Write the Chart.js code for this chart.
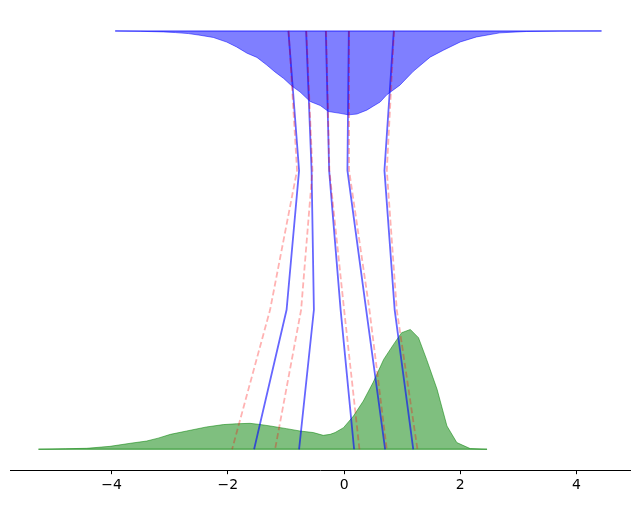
<!DOCTYPE html>
<html>
<head>
<meta charset="utf-8">
<script src="https://cdn.jsdelivr.net/npm/chart.js@4.4.1/dist/chart.umd.min.js"></script>
<style>
  html, body { margin: 0; padding: 0; background: #fff; }
  #wrap { width: 640px; height: 505px; }
</style>
</head>
<body>
<div id="wrap"><canvas id="chart" width="640" height="505"></canvas></div>
<script>
// tick labels on the x axis
const xTicks = [-4, -2, 0, 2, 4];

// y position of each layer (top density sits at 3, bottom density at 0)
const levels = [3, 2, 1, 0];

// top (blue) density, hanging down from level 3
const topX = [-3.94, -3.5, -3.11, -2.9, -2.68, -2.48, -2.25, -2.02, -1.85, -1.67, -1.5, -1.33, -1.19, -1.04,
              -0.9, -0.76, -0.585, -0.41, -0.27, -0.07, 0.074, 0.22, 0.39, 0.5, 0.62, 0.735, 0.96, 1.19,
              1.48, 1.71, 2.0, 2.28, 2.68, 3.14, 3.7, 4.43];
const topDepth = [0, 0.003, 0.007, 0.012, 0.019, 0.031, 0.047, 0.08, 0.115, 0.16, 0.19, 0.245, 0.294, 0.341,
                  0.395, 0.437, 0.506, 0.535, 0.578, 0.591, 0.602, 0.596, 0.568, 0.54, 0.51, 0.458, 0.389, 0.29,
                  0.188, 0.138, 0.079, 0.043, 0.014, 0.004, 0.001, 0];

// bottom (green) density, standing on level 0
const botX = [-5.26, -4.8, -4.43, -4.03, -3.68, -3.4, -3.2, -2.99, -2.71, -2.37, -2.08, -1.85, -1.62, -1.45,
              -1.27, -0.99, -0.76, -0.53, -0.36, -0.24, -0.155, -0.01, 0.16, 0.33, 0.5, 0.68, 0.85, 0.99,
              1.14, 1.28, 1.42, 1.6, 1.77, 1.94, 2.17, 2.46];
const botHeight = [0, 0.004, 0.007, 0.021, 0.043, 0.059, 0.08, 0.107, 0.131, 0.16, 0.177, 0.183, 0.186, 0.178,
                   0.167, 0.148, 0.131, 0.12, 0.1, 0.107, 0.12, 0.155, 0.238, 0.346, 0.48, 0.644, 0.752, 0.836,
                   0.859, 0.8, 0.644, 0.43, 0.167, 0.048, 0.005, 0];

// solid blue paths: x at each level (top -> bottom)
const bluePaths = [
  [-0.959, -0.775, -0.99, -1.549],
  [-0.654, -0.56, -0.52, -0.775],
  [-0.315, -0.258, -0.06, 0.172],
  [0.081, 0.057, 0.38, 0.706],
  [0.855, 0.694, 0.87, 1.19]
];

// dashed red paths: x at each level (top -> bottom)
const redPaths = [
  [-0.955, -0.81, -1.274, -1.928],
  [-0.65, -0.545, -0.74, -1.188],
  [-0.31, -0.253, 0.0, 0.264],
  [0.085, 0.086, 0.436, 0.734],
  [0.86, 0.735, 0.906, 1.262]
];

const datasets = [];

// densities
datasets.push({
  data: topX.map((x, i) => ({ x: x, y: levels[0] - topDepth[i] })),
  borderColor: 'rgba(0,0,255,0.5)',
  backgroundColor: 'rgba(0,0,255,0.5)',
  borderWidth: 1,
  fill: { value: levels[0] },
  order: 3
});
datasets.push({
  data: [{ x: topX[0], y: levels[0] }, { x: topX[topX.length - 1], y: levels[0] }],
  borderColor: 'rgba(0,0,255,0.5)',
  borderWidth: 1.5,
  fill: false,
  order: 3
});
datasets.push({
  data: botX.map((x, i) => ({ x: x, y: levels[3] + botHeight[i] })),
  borderColor: 'rgba(0,128,0,0.5)',
  backgroundColor: 'rgba(0,128,0,0.5)',
  borderWidth: 1,
  fill: 'origin',
  order: 3
});
datasets.push({
  data: [{ x: botX[0], y: levels[3] }, { x: botX[botX.length - 1], y: levels[3] }],
  borderColor: 'rgba(0,128,0,0.5)',
  borderWidth: 1.5,
  fill: false,
  order: 3
});

bluePaths.forEach(p => {
  datasets.push({
    data: p.map((x, i) => ({ x: x, y: levels[i] })),
    borderColor: 'rgba(0,0,255,0.6)',
    borderWidth: 1.8,
    fill: false,
    order: 2
  });
});

redPaths.forEach(p => {
  datasets.push({
    data: p.map((x, i) => ({ x: x, y: levels[i] })),
    borderColor: 'rgba(255,0,0,0.3)',
    borderWidth: 1.8,
    borderDash: [6, 3],
    fill: false,
    order: 1
  });
});

new Chart(document.getElementById('chart'), {
  type: 'line',
  data: { datasets: datasets },
  options: {
    responsive: false,
    animation: false,
    layout: { padding: { left: 10, right: 10, top: 10, bottom: 8 } },
    elements: { point: { radius: 0 }, line: { tension: 0 } },
    plugins: { legend: { display: false }, tooltip: { enabled: false } },
    scales: {
      x: {
        type: 'linear',
        min: -5.75,
        max: 4.92,
        afterBuildTicks: s => { s.ticks = xTicks.map(v => ({ value: v })); },
        grid: { display: true, drawOnChartArea: false, drawTicks: true, tickLength: 4, color: '#000', lineWidth: 1 },
        border: { display: true, color: '#000', width: 1 },
        ticks: {
          color: '#000',
          padding: 3,
          maxRotation: 0,
          autoSkip: false,
          font: { family: 'DejaVu Sans', size: 14 },
          callback: v => (v < 0 ? '\u2212' + Math.abs(v) : String(v))
        }
      },
      y: { display: false, min: -0.15, max: 3.15 }
    }
  }
});
</script>
</body>
</html>
